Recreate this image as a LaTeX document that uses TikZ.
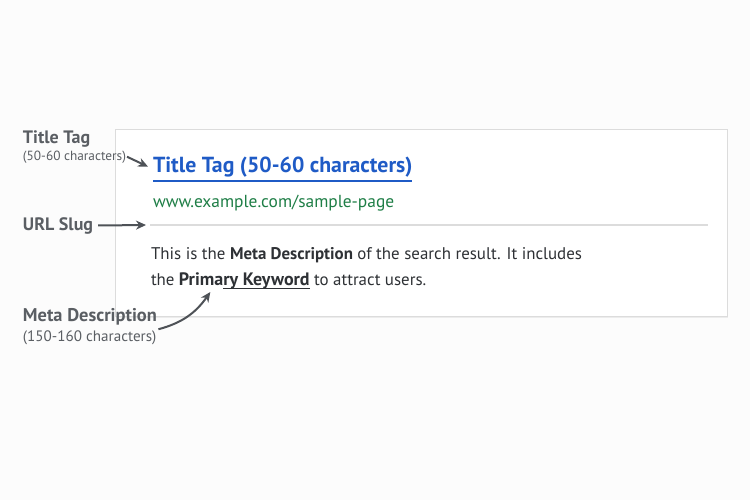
\documentclass[tikz,border=0pt]{standalone}
\usepackage{fontspec}
\setmainfont{PT Sans}
\usetikzlibrary{arrows.meta,calc,shadows}
\definecolor{labelgray}{HTML}{5A5E63}
\definecolor{arrowgray}{HTML}{4E5257}
\definecolor{linkblue}{HTML}{1F5BC6}
\definecolor{urlgreen}{HTML}{1E7E46}
\definecolor{bodygray}{HTML}{2E3135}
\definecolor{rulegray}{HTML}{DCDCDC}
\tikzset{txt/.style={inner sep=0pt, outer sep=0pt, anchor=base west}}
\tikzset{lbl/.style={txt, color=labelgray, font=\fontsize{9}{10}\selectfont\bfseries}}
\tikzset{lblsmall/.style={txt, color=labelgray, font=\fontsize{6.65}{8}\selectfont}}
\tikzset{body/.style={txt, color=bodygray, font=\fontsize{8.45}{10}\selectfont}}
\tikzset{pointer/.style={color=arrowgray, line width=1pt, -{Stealth[length=5pt,width=4.5pt]}}}

\begin{document}
\begin{tikzpicture}[x=0.5pt, y=-0.5pt]
  \fill[gray!2] (0,0) rectangle (750,500);
  \useasboundingbox (0,0) rectangle (750,500);

  % result card
  \node[draw=rulegray, fill=white, line width=.4pt, minimum width=306pt, minimum height=93.5pt,
        inner sep=0pt, drop shadow={opacity=.12, shadow xshift=.6pt, shadow yshift=-1pt}]
        (card) at (421,222.5) {};

  \node[txt, color=linkblue, font=\fontsize{10.9}{13}\selectfont\bfseries] (title) at (153,172) {Title Tag (50-60 characters)};
  \draw[linkblue, line width=1pt] (153,181) -- (title.base east |- 0,181);
  \node[txt, color=urlgreen, font=\fontsize{8.7}{10}\selectfont] (url) at (153,207) {www.example.com/sample-page};
  \coordinate (sepstart) at (150,225);
  \draw[rulegray, line width=1pt] (sepstart) -- (708,225);

  \node[body] (desc1) at (151,259) {This is the \textbf{Meta Description} of the search result. It includes};
  \node[body] (the) at (151,285) {the\kern.26em};
  \node[body, font=\fontsize{9}{10}\selectfont\bfseries] (kw) at (the.base east) {Primary Keyword};
  \node[body] (rest) at (kw.base east) {\kern.26em to attract users.};
  \draw[bodygray, line width=.8pt] ($(kw.base west)!.34!(kw.base east)+(0,3.5)$) -- ($(kw.base east)+(0,3.5)$);
  \coordinate (kwtip) at ($(kw.base west)!.24!(kw.base east)+(0,7)$);

  % labels on the left
  \node[lbl] (titlelabel) at (23,143) {Title Tag};
  \node[lblsmall] (titlechars) at (23,160) {(50-60 characters)};
  \node[lbl] (urllabel) at (23,230) {URL Slug};
  \node[lbl, font=\fontsize{9.2}{10}\selectfont\bfseries] (metalabel) at (23,321) {Meta Description};
  \node[lblsmall, font=\fontsize{7.55}{9}\selectfont] (metachars) at (23,341) {(150-160 characters)};

  \draw[pointer] (titlechars.east) ++(1,0) -- ($(title.west)+(-5,0)$);
  \draw[pointer] ($(urllabel.east)+(5,0)$) -- ($(sepstart)+(-4,0)$ |- urllabel.east);
  \draw[pointer] ($(metachars.north east)+(2,-1)$) to[out=15, in=-125] (kwtip);
\end{tikzpicture}
\end{document}
